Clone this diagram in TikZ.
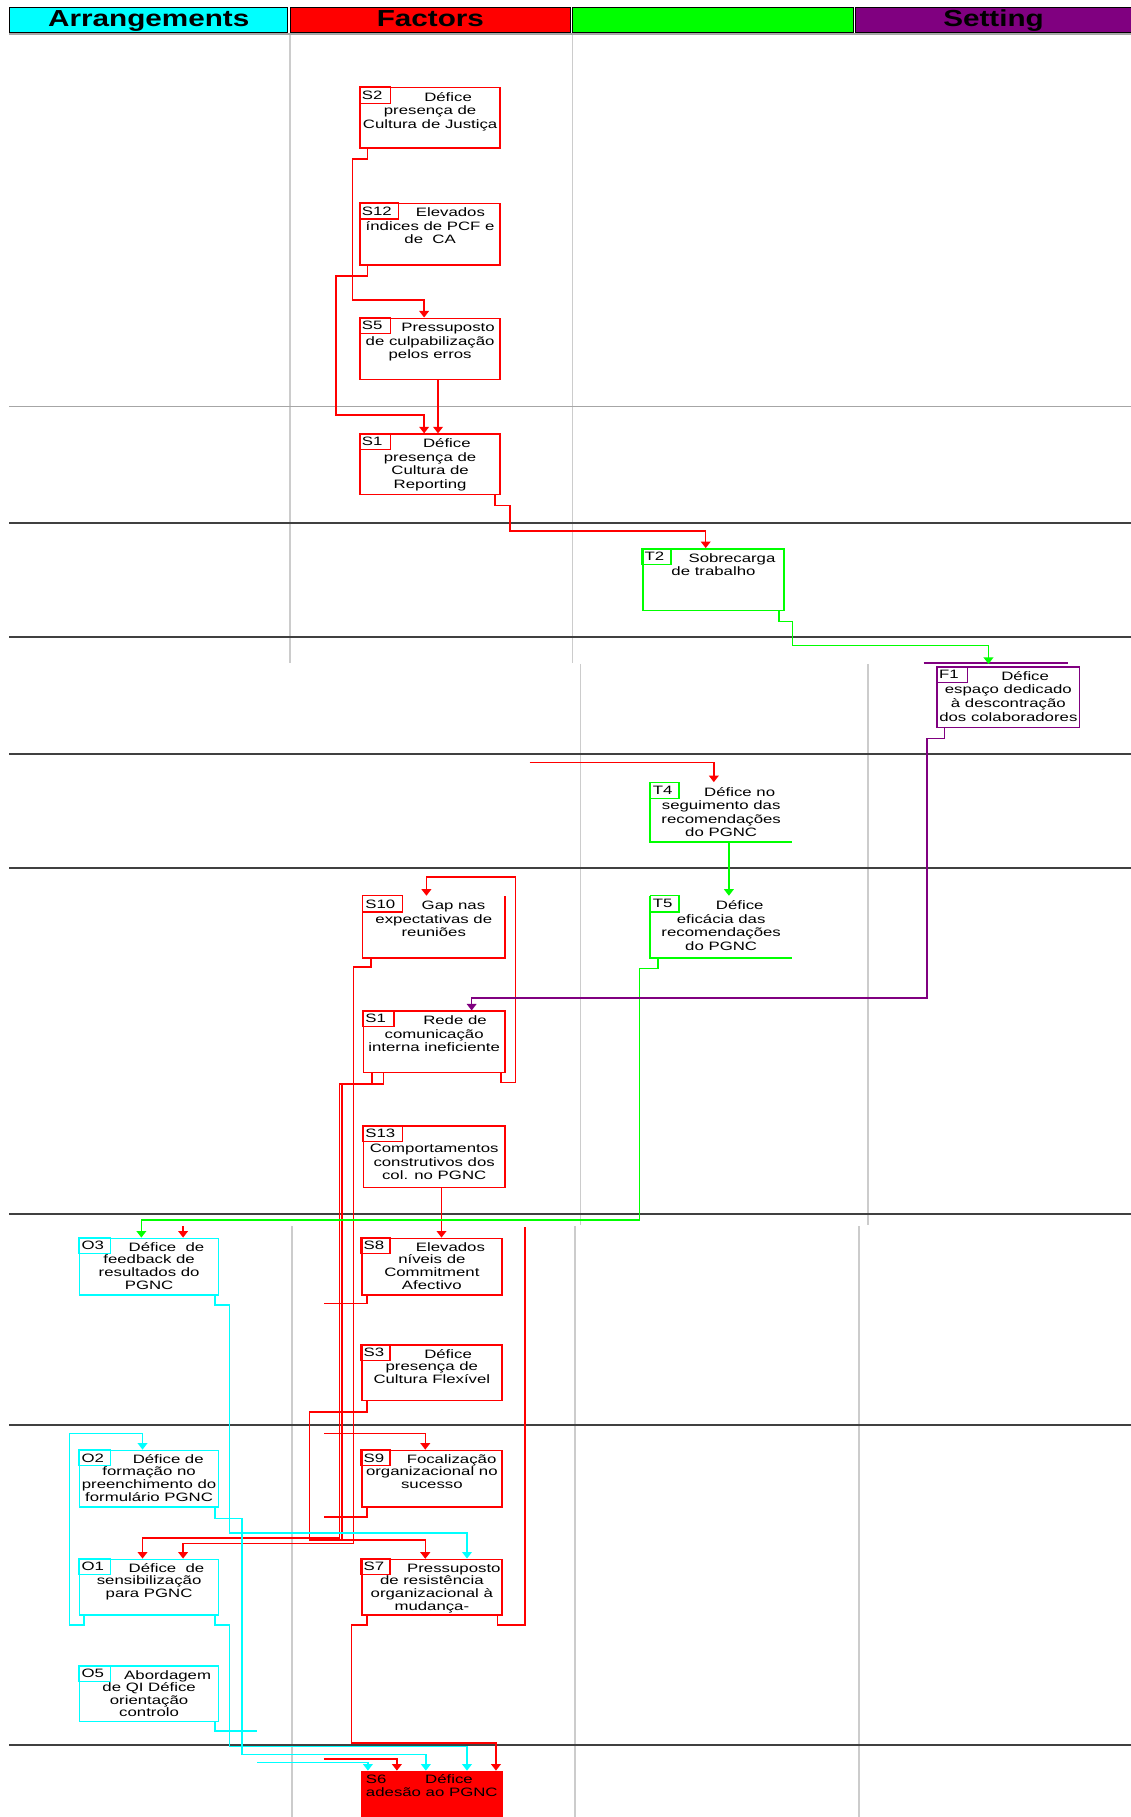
\documentclass[tikz,border=0pt]{standalone}
\usepackage{fontspec}
\usetikzlibrary{calc,arrows.meta}
\newfontfamily\boxfont[FakeStretch=1.38]{Liberation Sans}
\newfontfamily\headfont[FakeStretch=1.28]{Liberation Sans}
\definecolor{cy}{RGB}{0,255,255}
\definecolor{gr}{RGB}{0,255,0}
\definecolor{rd}{RGB}{255,0,0}
\definecolor{pu}{RGB}{128,0,128}

% line spacing of the box texts and offset of their second block
\newcommand\lineskipbox{7}
\newcommand\secondrow{15.2}

\tikzset{
  boxline/.style={draw, line width=0.8pt, inner sep=0pt, anchor=north west},
  areabox/.style={inner sep=0pt, anchor=north west},
  edgeline/.style={line width=0.8pt},
  idtxt/.style={inner sep=0pt, anchor=north west, font=\boxfont\fontsize{6.3}{7}\selectfont},
  btxt/.style={inner sep=0pt, anchor=north, align=center,
    font=\boxfont\fontsize{6.3}{\lineskipbox}\selectfont},
  cellhd/.style={draw=black, line width=0.5pt, inner sep=0pt, anchor=north west,
    minimum height=13.2pt, text height=9pt, text depth=2.6pt,
    font=\headfont\bfseries\fontsize{12}{12}\selectfont},
  lane/.style={gray!40, line width=0.9pt},
  row/.style={black!75, line width=1pt},
  con/.style={line width=0.8pt, -{Triangle[width=5pt,length=3.4pt]}},
  lead/.style={line width=0.8pt},
}

% box node spanning (x1,y1)-(x2,y2)
\newcommand\mkbox[6]{\node[boxline, draw=#6, minimum width={(#4-#2)*0.6pt},
  minimum height={(#5-#3)*0.6pt}] (#1) at (#2,#3) {};}
\newcommand\mkarea[5]{\node[areabox, minimum width={(#4-#2)*0.6pt},
  minimum height={(#5-#3)*0.6pt}] (#1) at (#2,#3) {};}
% identifier cell in the top-left corner
\newcommand\idbox[4]{%
  \draw[#3, line width=0.6pt] (#1.north west) rectangle ($(#1.north west)+(#2,14)$);
  \node[idtxt] (#1-id) at ($(#1.north west)+(2,3)$) {#4};}
% first line beside the identifier, remaining lines centred below
\newcommand\btext[4]{%
  \node[btxt] (#1-a) at ($(#1.north)+(#3,3.5)$) {\rule{0pt}{5pt}#2};
  \node[btxt] (#1-b) at ($(#1.north)+(0,\secondrow)$) {\rule{0pt}{5pt}#4};}

\begin{document}
\begin{tikzpicture}[x=0.6pt,y=-0.6pt]
\useasboundingbox (0,0) rectangle (976,1568);

% ---- column headers
\node[cellhd, fill=cy, minimum width=144pt] (hA) at (8,6) {Arrangements};
\node[cellhd, fill=rd, minimum width=145.2pt] (hF) at (250,6) {Factors};
\node[cellhd, fill=gr, minimum width=145.2pt] (hT) at (494,6) {};
\node[cellhd, fill=pu, minimum width=142.8pt] (hS) at (738,6) {Setting};
\draw[gray!70, line width=1.2pt] (8,29.5) -- (976,29.5);

% ---- lane separators
\draw[lane] (250,30) -- (250,572);
\draw[lane] (494,30) -- (494,572);
\draw[lane] (501,573) -- (501,1057);
\draw[lane] (749,573) -- (749,1057);
\draw[lane] (252,1058) -- (252,1568);
\draw[lane] (496,1058) -- (496,1568);
\draw[lane] (741,1058) -- (741,1568);

% ---- row separators
\draw[gray!70, line width=0.6pt] (8,351) -- (976,351);
\foreach \yy in {451,550,651,749,1048,1230,1506}
  \draw[row] (8,\yy) -- (976,\yy);

% ---- factor boxes, upper block
\mkbox{S2}{310}{75}{431}{127}{rd}
\idbox{S2}{27}{rd}{S2}
\btext{S2}{Défice}{15.5}{presença de\\Cultura de Justiça}

\mkbox{S12}{310}{175}{431}{228}{rd}
\idbox{S12}{34}{rd}{S12}
\btext{S12}{Elevados}{17.5}{índices de PCF e\\de\ \ CA}

\mkbox{S5}{310}{274}{431}{327}{rd}
\idbox{S5}{27}{rd}{S5}
\btext{S5}{Pressuposto}{15.5}{de culpabilização\\pelos erros}

\mkbox{S1r}{310}{374}{431}{426}{rd}
\idbox{S1r}{27}{rd}{S1}
\btext{S1r}{Défice}{14.5}{presença de\\Cultura de\\Reporting}

\mkbox{T2}{554}{473}{676}{526}{gr}
\idbox{T2}{25}{gr}{T2}
\btext{T2}{Sobrecarga}{16}{de trabalho}

\mkbox{F1}{808}{575}{931}{627}{pu}
\idbox{F1}{27}{pu}{F1}
\btext{F1}{Défice}{14.5}{espaço dedicado\\à descontração\\dos colaboradores}
\draw[pu, line width=1pt] ($(F1.north west)+(-11,-3)$) -- ($(F1.north east)+(-11,-3)$);

% ---- middle block
\mkarea{T4}{561}{675}{683}{726}
\draw[gr, edgeline] (T4.north west) |- (T4.south east);
\idbox{T4}{25}{gr}{T4}
\btext{T4}{Défice no}{16}{seguimento das\\recomendações\\do PGNC}

\mkarea{T5}{561}{773}{683}{826}
\draw[gr, edgeline] (T5.north west) |- (T5.south east);
\idbox{T5}{25}{gr}{T5}
\btext{T5}{Défice}{16}{eficácia das\\recomendações\\do PGNC}

\mkarea{S10}{313}{773}{435}{826}
\draw[rd, edgeline] (S10.north west) -- (S10.south west) -- (S10.south east) -- (S10.north east);
\idbox{S10}{34}{rd}{S10}
\btext{S10}{Gap nas}{17}{expectativas de\\reuniões}

\mkbox{S1b}{313}{872}{435}{925}{rd}
\idbox{S1b}{27}{rd}{S1}
\btext{S1b}{Rede de}{18}{comunicação\\interna ineficiente}

\mkbox{S13}{313}{971}{435}{1024}{rd}
\idbox{S13}{34}{rd}{S13}
\node[btxt] (S13-b) at ($(S13.north)+(0,15.2)$) {\rule{0pt}{5pt}Comportamentos\\construtivos dos\\col. no PGNC};

% ---- lower block: slightly tighter lines
\renewcommand\lineskipbox{6.6}
\renewcommand\secondrow{14}

\mkbox{O3}{68}{1068}{188}{1117}{cy}
\idbox{O3}{27}{cy}{O3}
\btext{O3}{Défice\ \ de}{15}{feedback de\\resultados do\\PGNC}

\mkbox{O2}{68}{1251}{188}{1300}{cy}
\idbox{O2}{27}{cy}{O2}
\btext{O2}{Défice de}{16.5}{formação no\\preenchimento do\\formulário PGNC}

\mkbox{O1}{68}{1345}{188}{1393}{cy}
\idbox{O1}{27}{cy}{O1}
\btext{O1}{Défice\ \ de}{15}{sensibilização\\para PGNC}

\mkbox{O5}{68}{1437}{188}{1485}{cy}
\idbox{O5}{27}{cy}{O5}
\btext{O5}{Abordagem}{16}{de QI Défice\\orientação\\controlo}

\mkbox{S8}{311.5}{1068}{432.5}{1117}{rd}
\idbox{S8}{25}{rd}{S8}
\btext{S8}{Elevados}{16}{níveis de\\Commitment\\Afectivo}

\mkbox{S3}{311.5}{1160}{432.5}{1208}{rd}
\idbox{S3}{25}{rd}{S3}
\btext{S3}{Défice}{14}{presença de\\Cultura Flexível}

\mkbox{S9}{311.5}{1251}{432.5}{1300}{rd}
\idbox{S9}{25}{rd}{S9}
\btext{S9}{Focalização}{17}{organizacional no\\sucesso}

\mkbox{S7}{311.5}{1345}{432.5}{1393}{rd}
\idbox{S7}{25}{rd}{S7}
\btext{S7}{Pressuposto}{19}{de resistência\\organizacional à\\mudança-}

\node[boxline, draw=rd, fill=rd, minimum width=72.6pt, minimum height=25pt] (S6) at (311.5,1528) {};
\node[idtxt, align=left] (S6-t) at ($(S6.north west)+(4,2)$)
  {\rule{0pt}{5pt}S6\hspace*{20pt}Défice\\adesão ao PGNC};

% ---- free ends of connectors
\coordinate (fT4) at (457,658);
\coordinate (fO3) at (158,1058);
\coordinate (eS8) at (280,1125);
\coordinate (fS9) at (280,1237);
\coordinate (eS9) at (280,1309);
\coordinate (eS7) at (453,1059);
\coordinate (fS6r) at (280,1518);
\coordinate (eO5) at (222,1494);
\coordinate (fS6c) at (222,1521);

% ---- connectors
\begin{scope}[rd]
\draw[con] ($(S2.south west)+(7,0)$) -- ++(0,9) -| (304,259) -| ($(S5.north west)+(56,0)$);
\draw[con] ($(S12.south west)+(7,0)$) -- ++(0,9) -| (290,358) -| ($(S1r.north west)+(56,0)$);
\draw[con] ($(S5.south west)+(68,0)$) -- ($(S1r.north west)+(68,0)$);
\draw[con] ($(S1r.south east)+(-5,0)$) -- ++(0,9) -| (440,458) -| ($(T2.north west)+(55,0)$);
\draw[con] (fT4) -| ($(T4.north west)+(55,0)$);
\draw[con] ($(S1b.south east)+(-4,0)$) -- ++(0,8) -| (445,757) -| ($(S10.north west)+(55,0)$);
\draw[con] ($(S10.south west)+(7,0)$) -- ++(0,8) -| (305,1332) -| ($(O1.north west)+(90,0)$);
\draw[con] ($(S1b.south west)+(8,0)$) -- ++(0,9) -| (293,1327) -| ($(O1.north west)+(55,0)$);
\draw[con] ($(S1b.south west)+(18,0)$) -- ++(0,9) -| (295,1329) -| ($(S7.north west)+(55.5,0)$);
\draw[con] ($(S13.south west)+(68,0)$) -- ($(S8.north west)+(69.5,0)$);
\draw[con] (fO3) -- ($(O3.north west)+(90,0)$);
\draw[lead] ($(S8.south west)+(5,0)$) |- (eS8);
\draw[con] ($(S3.south west)+(5,0)$) -- ++(0,9) -| (267,1329) -| ($(S7.north west)+(55.5,0)$);
\draw[con] (fS9) -| ($(S9.north west)+(55.5,0)$);
\draw[lead] ($(S9.south west)+(5,0)$) |- (eS9);
\draw[lead] ($(S7.south east)+(-4.5,0)$) -- ++(0,8) -| (eS7);
\draw[con] ($(S7.south west)+(5,0)$) -- ++(0,8) -| (303.5,1504) -| ($(S6.north west)+(116.5,0)$);
\draw[con] (fS6r) -| ($(S6.north west)+(31,0)$);
\end{scope}

\begin{scope}[gr]
\draw[con] ($(T2.south east)+(-5,0)$) -- ++(0,9) -| (684,557) -| ($(F1.north west)+(45,-2)$);
\draw[con] ($(T4.south west)+(68,0)$) -- ($(T5.north west)+(68,0)$);
\draw[con] ($(T5.south west)+(7,0)$) -- ++(0,9) -| (552,1053) -| ($(O3.north west)+(54,0)$);
\end{scope}

\draw[pu, con] ($(F1.south west)+(7,0)$) -- ++(0,9) -| (800,861) -| ($(S1b.north west)+(94,0)$);

\begin{scope}[cy]
\draw[con] ($(O3.south east)+(-4,0)$) -- ++(0,8) -| (198,1323) -| ($(S7.north west)+(91.5,0)$);
\draw[con] ($(O1.south west)+(4.5,0)$) -- ++(0,8) -| (60,1237) -| ($(O2.north west)+(55,0)$);
\draw[con] ($(O2.south east)+(-4,0)$) -- ++(0,9) -| (209,1514) -| ($(S6.north west)+(56,0)$);
\draw[con] ($(O1.south east)+(-4,0)$) -- ++(0,8) -| (198,1507) -| ($(S6.north west)+(91.5,0)$);
\draw[lead] ($(O5.south east)+(-4,0)$) |- (eO5);
\draw[con] (fS6c) -| ($(S6.north west)+(6,0)$);
\end{scope}
\end{tikzpicture}
\end{document}
